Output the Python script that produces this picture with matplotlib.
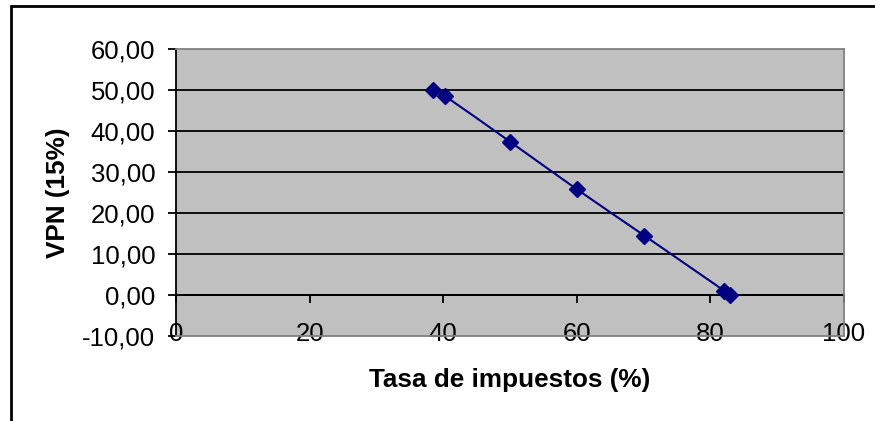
import matplotlib
matplotlib.use("Agg")
import matplotlib.pyplot as plt
import numpy as np
from matplotlib.path import Path
from matplotlib.patches import PathPatch, Rectangle

# data
tasa = [38.5, 40.2, 50.0, 60.0, 70.1, 82.1, 83.0]
vpn = [50.1, 48.6, 37.4, 25.8, 14.5, 1.0, 0.0]
x_ticks = [0, 20, 40, 60, 80, 100]
y_ticks = [-10, 0, 10, 20, 30, 40, 50, 60]

NAVY = "#000080"
plt.rcParams['font.family'] = ['Liberation Sans', 'DejaVu Sans']


def smooth_path(xs, ys):
    # catmull-rom through the points, like excel's smoothed line
    pts = np.column_stack([xs, ys]).astype(float)
    n = len(pts)
    verts = [pts[0]]
    codes = [Path.MOVETO]
    for i in range(n - 1):
        p0 = pts[i - 1] if i > 0 else pts[i]
        p1 = pts[i]
        p2 = pts[i + 1]
        p3 = pts[i + 2] if i + 2 < n else pts[i + 1]
        c1 = p1 + (p2 - p0) / 6.0
        c2 = p2 - (p3 - p1) / 6.0
        verts += [c1, c2, p2]
        codes += [Path.CURVE4] * 3
    return Path(verts, codes)


fig = plt.figure(figsize=(8.75, 4.21), dpi=100)
ax = fig.add_axes([176 / 875, 85 / 421, 668 / 875, 287 / 421])
ax.set_facecolor("#c0c0c0")

ax.set_xlim(0, 100)
ax.set_ylim(-10, 60)

ax.set_yticks(y_ticks)
ax.set_yticklabels([("%.2f" % v).replace(".", ",") for v in y_ticks])
ax.set_xticks(x_ticks)
ax.set_xticklabels([str(v) for v in x_ticks])

ax.yaxis.grid(True, color="black", linewidth=1.3)
ax.set_axisbelow(True)
gl = ax.get_ygridlines()
gl[0].set_visible(False)
gl[-1].set_visible(False)

for s in ["top", "right", "bottom"]:
    ax.spines[s].set_color("#808080")
    ax.spines[s].set_linewidth(1.3)
ax.spines["left"].set_color("black")
ax.spines["left"].set_linewidth(1.3)

ax.tick_params(axis="y", direction="out", length=6, width=1.3, pad=9,
               labelsize=18.5)
ax.tick_params(axis="x", length=0, pad=-10, labelsize=18.5)

# x axis crossing at y = 0
sec = ax.secondary_xaxis(10 / 70)
sec.set_xticks(x_ticks)
sec.tick_params(direction="out", length=6, width=1.3, labelbottom=False)
sec.spines["bottom"].set_color("black")
sec.spines["bottom"].set_linewidth(1.3)

ax.add_patch(PathPatch(smooth_path(tasa, vpn), facecolor="none",
                       edgecolor=NAVY, linewidth=1.5, zorder=3))
ax.plot(tasa, vpn, linestyle="none", marker="D", markersize=8,
        color=NAVY, zorder=4, clip_on=False)

ax.set_xlabel("Tasa de impuestos (%)", fontsize=18.8, fontweight="bold",
              va="center")
ax.xaxis.set_label_coords(0.5, -0.153)
ax.set_ylabel("VPN (15%)", fontsize=18.8, fontweight="bold", va="center")
ax.yaxis.set_label_coords(-0.1766, 0.5)

# outer chart frame
fig.patches.append(Rectangle((11 / 875, -0.5), 2, 1.5 - 6 / 421,
                             transform=fig.transFigure, fill=False,
                             edgecolor="black", linewidth=2))

fig.savefig("out.png", dpi=100)
